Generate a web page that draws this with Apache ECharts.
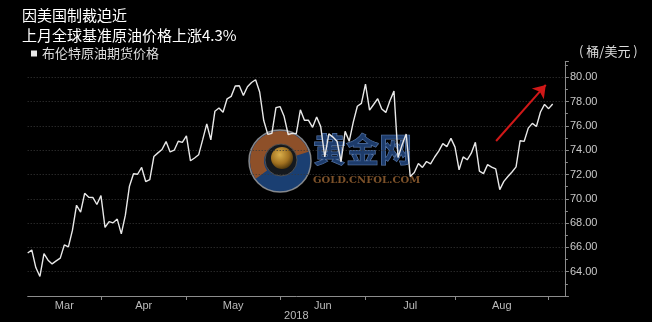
<!DOCTYPE html>
<html>
<head>
<meta charset="utf-8">
<script src="https://cdn.jsdelivr.net/npm/echarts@6/dist/echarts.min.js"></script>
<style>
  html, body { margin: 0; padding: 0; background: #000; }
  #chart { width: 652px; height: 322px; }
</style>
</head>
<body>
<div id="chart"></div>
<script>
// ---- texts ----
const titleLines = ['因美国制裁迫近', '上月全球基准原油价格上涨4.3%'];
const seriesName = '布伦特原油期货价格';
const unitLabel = '( 桶/美元 )';
const yearLabel = '2018';
const monthNames = ['Mar', 'Apr', 'May', 'Jun', 'Jul', 'Aug', 'Sep'];
const monthNums = [3, 4, 5, 6, 7, 8, 9];
const labelledMonths = 6; // Mar..Aug carry a label and an end-of-month tick

// ---- trading days (categories) ----
const marDays = [5, 6, 7, 8, 9, 12, 13, 14, 15, 16, 19, 20, 21, 22, 23, 26, 27, 28, 29];
const aprDays = [2, 3, 4, 5, 6, 9, 10, 11, 12, 13, 16, 17, 18, 19, 20, 23, 24, 25, 26, 27, 30];
const mayDays = [1, 2, 3, 4, 7, 8, 9, 10, 11, 14, 15, 16, 17, 18, 21, 22, 23, 24, 25, 28, 29, 30, 31];
const junDays = [1, 4, 5, 6, 7, 8, 11, 12, 13, 14, 15, 18, 19, 20, 21, 22, 25, 26, 27, 28, 29];
const julDays = [2, 3, 4, 5, 6, 9, 10, 11, 12, 13, 16, 17, 18, 19, 20, 23, 24, 25, 26, 27, 30, 31];
const augDays = [1, 2, 3, 6, 7, 8, 9, 10, 13, 14, 15, 16, 17, 20, 21, 22, 23, 24, 27, 28, 29, 30, 31];
const sepDays = [3];

// ---- Brent futures price (USD / barrel) ----
const marPrices = [65.54, 65.79, 64.34, 63.61, 65.49, 64.95, 64.64, 64.89, 65.12, 66.21, 66.05, 67.42, 69.47, 68.91, 70.45, 70.12, 70.11, 69.53, 70.27];
const aprPrices = [67.64, 68.12, 68.02, 68.33, 67.11, 68.65, 71.04, 72.06, 72.02, 72.58, 71.42, 71.58, 73.48, 73.78, 74.06, 74.71, 73.86, 74.00, 74.74, 74.64, 75.17];
const mayPrices = [73.13, 73.36, 73.62, 74.87, 76.17, 74.85, 77.21, 77.47, 77.12, 78.23, 78.43, 79.28, 79.30, 78.51, 79.22, 79.57, 79.80, 78.79, 76.44, 75.30, 75.39, 77.50, 77.59];
const junPrices = [76.79, 75.29, 75.38, 75.36, 77.32, 76.46, 76.46, 75.88, 76.74, 75.94, 73.44, 75.34, 75.08, 74.74, 73.05, 75.55, 74.73, 76.31, 77.62, 77.85, 79.44];
const julPrices = [77.30, 77.76, 78.24, 77.39, 77.11, 78.07, 78.86, 73.40, 74.45, 75.33, 71.84, 72.16, 72.90, 72.58, 73.07, 72.88, 73.44, 73.93, 74.54, 74.29, 74.97, 74.25];
const augPrices = [72.39, 73.45, 73.21, 73.75, 74.65, 72.28, 72.07, 72.81, 72.61, 72.46, 70.76, 71.43, 71.83, 72.21, 72.63, 74.78, 74.73, 75.82, 76.21, 75.95, 77.14, 77.77, 77.42];
const sepPrices = [77.80];

// ---- y axis ----
const yMin = 62, yMax = 81.3, yStep = 2;

// ---- red trend arrow annotation (data coords: trading-day index, price) ----
const arrowFrom = [115.1, 74.76];
const arrowTo = [127.3, 79.37];

// ---- build ----
const monthDays = [marDays, aprDays, mayDays, junDays, julDays, augDays, sepDays];
const monthPrices = [marPrices, aprPrices, mayPrices, junPrices, julPrices, augPrices, sepPrices];
const pad = n => String(n).padStart(2, '0');
const dates = [];
const prices = [];
monthDays.forEach((days, m) => {
  days.forEach((d, k) => {
    dates.push('2018-' + pad(monthNums[m]) + '-' + pad(d));
    prices.push(monthPrices[m][k]);
  });
});
const seriesData = prices.map((v, i) => [i, v]);

const monthEnds = [];
let cum = 0;
for (let m = 0; m < labelledMonths; m++) {
  cum += monthDays[m].length;
  monthEnds.push(cum - 1);
}
const labelPos = monthEnds.map((e, m) => ((m === 0 ? 0 : monthEnds[m - 1]) + e) / 2);

const cjk = '"Noto Sans CJK SC", "Noto Sans", sans-serif';
const latin = '"Liberation Sans", Arial, sans-serif';

const chart = echarts.init(document.getElementById('chart'), null, { renderer: 'canvas' });
chart.setOption({
  backgroundColor: '#000',
  animation: false,
  title: [
    {
      text: titleLines.join('\n'),
      left: 22, top: 5, padding: 0,
      textStyle: { color: '#ffffff', fontSize: 15, fontWeight: 'normal', lineHeight: 20, fontFamily: cjk }
    },
    {
      text: unitLabel,
      left: 579, top: 45, padding: 0,
      textStyle: { color: '#dddddd', fontSize: 13, fontWeight: 'normal', fontFamily: cjk }
    }
  ],
  legend: {
    data: [seriesName],
    left: 31, top: 47, padding: 0,
    icon: 'rect', itemWidth: 6, itemHeight: 6, itemGap: 10,
    textStyle: { color: '#dddddd', fontSize: 13, fontFamily: cjk }
  },
  grid: { left: 27.7, right: 87.1, top: 61.5, bottom: 26, containLabel: false, outerBoundsMode: 'none' },
  xAxis: {
    type: 'value',
    min: 0, max: 132,
    name: yearLabel,
    nameLocation: 'middle',
    nameGap: 14,
    nameMoveOverlap: false,
    nameTextStyle: { color: '#bbbbbb', fontSize: 11, fontFamily: latin, verticalAlign: 'top' },
    splitLine: { show: false },
    axisLine: { show: true, onZero: false, lineStyle: { color: '#8c8c8c', width: 1 } },
    axisTick: { show: true, customValues: monthEnds, length: 4, lineStyle: { color: '#8c8c8c' } },
    axisLabel: {
      customValues: labelPos,
      color: '#bbbbbb', fontSize: 11, fontFamily: latin, margin: 4,
      formatter: function (v) {
        const k = labelPos.findIndex(p => Math.abs(p - v) < 1e-6);
        return k >= 0 ? monthNames[k] : '';
      }
    }
  },
  yAxis: {
    type: 'value',
    position: 'right',
    min: yMin, max: yMax, interval: yStep,
    axisLine: { show: true, onZero: false, lineStyle: { color: '#8c8c8c', width: 1 } },
    axisTick: { show: true, length: 4, lineStyle: { color: '#8c8c8c' } },
    minorTick: { show: true, splitNumber: 2, length: 3, lineStyle: { color: '#8c8c8c' } },
    axisLabel: {
      color: '#c8c8c8', fontSize: 11, fontFamily: latin, margin: 5,
      showMinLabel: false, showMaxLabel: false,
      formatter: v => v.toFixed(2)
    },
    splitLine: {
      show: true, showMinLine: false, showMaxLine: false,
      lineStyle: { color: '#3a3a3a', type: [1, 2], width: 1 }
    }
  },
  series: [
    {
      name: seriesName,
      type: 'line',
      data: seriesData,
      showSymbol: false,
      symbol: 'none',
      color: '#e8e8e8',
      lineStyle: { color: '#e8e8e8', width: 1.4 },
      z: 3,
      markLine: {
        silent: true,
        symbol: ['none', 'arrow'],
        symbolSize: 12,
        label: { show: false },
        lineStyle: { color: '#d01818', width: 2, type: 'solid' },
        itemStyle: { color: '#d01818' },
        emphasis: { disabled: true },
        data: [[{ coord: arrowFrom }, { coord: arrowTo }]]
      }
    }
  ],
  graphic: [
    {
      type: 'group',
      z: 10,
      silent: true,
      children: [
        { type: 'circle', shape: { cx: 280, cy: 161, r: 31 }, style: { fill: '#1f4a86', stroke: '#9a9a9a', lineWidth: 1.5, opacity: 0.85 } },
        { type: 'sector', shape: { cx: 280, cy: 161, r: 30, r0: 16, startAngle: Math.PI * 0.8, endAngle: Math.PI * 1.9 }, style: { fill: '#a3531c', opacity: 0.85 } },
        { type: 'circle', shape: { cx: 281, cy: 160, r: 16 }, style: { fill: '#151515', stroke: '#555', lineWidth: 1, opacity: 0.9 } },
        { type: 'circle', shape: { cx: 282, cy: 158, r: 11 }, style: {
            fill: new echarts.graphic.RadialGradient(0.4, 0.35, 0.7, [
              { offset: 0, color: '#f0c050' }, { offset: 0.6, color: '#b07a20' }, { offset: 1, color: '#4a3208' }
            ]), opacity: 0.9 } },
        { type: 'text', x: 313, y: 133, style: { text: '黄金网', font: 'bold 33px "Noto Sans CJK SC"', fill: '#22457d', stroke: '#6f90c6', lineWidth: 1, opacity: 0.85 } },
        { type: 'text', x: 313, y: 175, style: { text: 'GOLD.CNFOL.COM', font: 'bold 10px "DejaVu Serif"', fill: '#8a5a2e', opacity: 0.9 } }
      ]
    }
  ]
});
</script>
</body>
</html>
